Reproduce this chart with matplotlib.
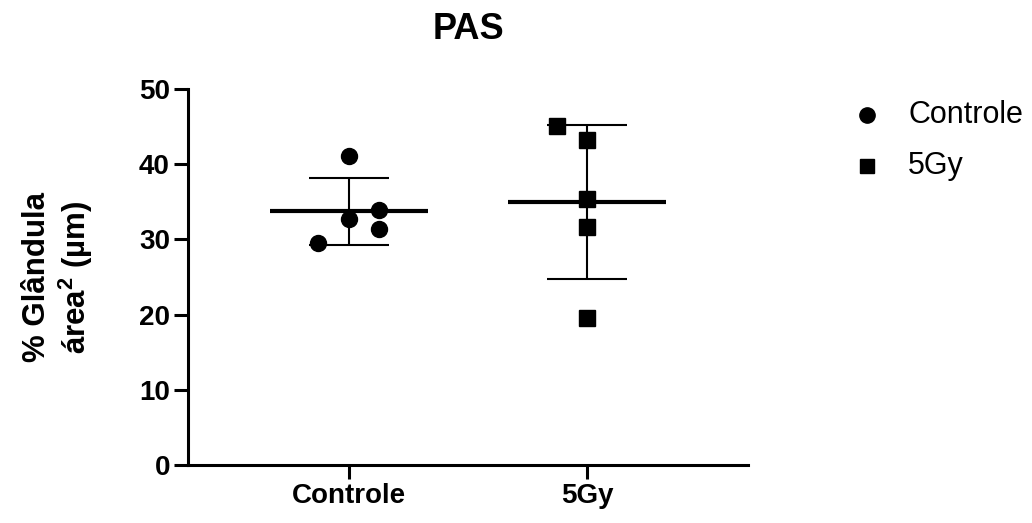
import numpy as np
import matplotlib
matplotlib.use("Agg")
import matplotlib.pyplot as plt
from matplotlib.lines import Line2D

plt.rcParams['font.family'] = ['Liberation Sans', 'DejaVu Sans']
plt.rcParams['mathtext.fontset'] = 'custom'
plt.rcParams['mathtext.bf'] = 'Liberation Sans:bold'
plt.rcParams['mathtext.rm'] = 'Liberation Sans:bold'

categories = ["Controle", "5Gy"]
controle_values = [41.1, 32.7, 33.9, 31.4, 29.5]
controle_jitter = [0.0, 0.0, 0.126, 0.126, -0.13]
gy5_values = [45.1, 43.2, 35.4, 31.6, 19.5]
gy5_jitter = [-0.126, 0.0, 0.0, 0.0, 0.0]
y_ticks = [0, 10, 20, 30, 40, 50]
title = "PAS"
ylabel = "% Glândula\nárea$^{\\mathbf{2}}$ (µm)"

series = [(controle_values, controle_jitter, 'o'), (gy5_values, gy5_jitter, 's')]

W, H = 1032, 523
fig = plt.figure(figsize=(W / 100, H / 100), dpi=100)
ax = fig.add_axes([188/W, 1 - 465/H, (748-188)/W, (465-89)/H])

for i, (vals, jit, mk) in enumerate(series):
    vals = np.array(vals)
    m = vals.mean()
    sd = vals.std(ddof=1)
    ax.plot([i - 0.33, i + 0.33], [m, m], color='black', lw=3.0, zorder=2, solid_capstyle='butt')
    ax.errorbar([i], [m], yerr=[sd], fmt='none', ecolor='black', elinewidth=1.5,
                capsize=29, capthick=1.5, zorder=2)
    ax.plot(i + np.array(jit), vals, linestyle='none', marker=mk, color='black',
            markersize=11.5 if mk == 'o' else 11, zorder=3, clip_on=False)

ax.set_xlim(-0.676, 1.676)
ax.set_ylim(0, 50)
ax.set_yticks(y_ticks)
ax.set_xticks(range(len(categories)))
ax.set_xticklabels(categories)
for s in ['top', 'right']:
    ax.spines[s].set_visible(False)
for s in ['left', 'bottom']:
    ax.spines[s].set_linewidth(2.2)
ax.tick_params(axis='both', length=10, width=2.2, labelsize=20, pad=3)
for lab in ax.get_xticklabels() + ax.get_yticklabels():
    lab.set_fontweight('bold')

ax.set_title(title, fontsize=26, fontweight='bold', pad=36)
ax.set_ylabel(ylabel, fontsize=22.5, fontweight='bold', labelpad=32, linespacing=1.15)

# legend, drawn manually
leg_markers = ['o', 's']
leg_y = [115, 166]
for mk, lab, yy in zip(leg_markers, categories, leg_y):
    fig.add_artist(Line2D([867/W], [1 - yy/H], transform=fig.transFigure, linestyle='none',
                          marker=mk, color='black', markersize=11 if mk == 'o' else 10.5))
    fig.text(908/W, 1 - yy/H, lab, fontsize=22, va='center', ha='left')

fig.savefig("out.png", dpi=100)
